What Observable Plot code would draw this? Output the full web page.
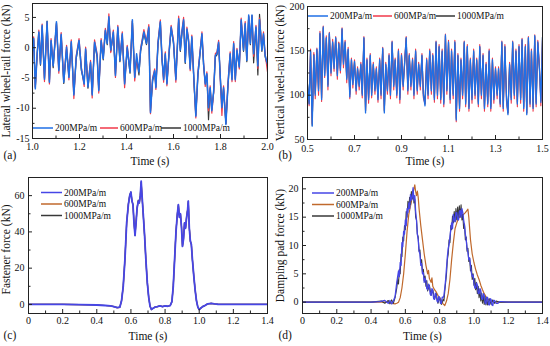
<!DOCTYPE html>
<html><head><meta charset="utf-8">
<script src="https://cdn.jsdelivr.net/npm/d3@7"></script>
<script src="https://cdn.jsdelivr.net/npm/@observablehq/plot@0.6"></script>
<style>
body{margin:0;background:#fff;font-family:"Liberation Serif",serif;}
#wrap{position:relative;width:550px;height:346px;overflow:hidden;background:#fff;}
.panel{position:absolute;}
</style></head><body><div id="wrap"></div>
<script>
// ---------- Panel (a): lateral wheel-rail force ----------
const tA = [1.000,1.005,1.012,1.020,1.027,1.034,1.041,1.051,1.062,1.072,
1.079,1.088,1.102,1.112,1.122,1.133,1.145,1.155,1.165,1.176,
1.186,1.198,1.208,1.220,1.226,1.236,1.247,1.254,1.264,1.275,
1.282,1.292,1.301,1.310,1.318,1.325,1.333,1.344,1.353,1.363,
1.372,1.382,1.392,1.403,1.415,1.425,1.435,1.443,1.453,1.460,
1.474,1.485,1.495,1.502,1.511,1.520,1.525,1.534,1.544,1.551,
1.558,1.565,1.572,1.582,1.590,1.600,1.610,1.622,1.629,1.636,
1.643,1.650,1.657,1.664,1.671,1.678,1.688,1.695,1.704,1.711,
1.721,1.728,1.735,1.742,1.749,1.756,1.763,1.771,1.778,1.785,
1.792,1.799,1.806,1.813,1.823,1.832,1.841,1.849,1.856,1.863,
1.870,1.880,1.888,1.898,1.905,1.912,1.920,1.927,1.934,1.941,
1.951,1.959,1.966,1.976,1.983,1.990,2.000];
const lateral200 = [-0.5,1.5,-6.8,-1.0,2.6,-2.7,3.7,-5.2,4.3,-5.7,
1.2,-3.0,4.3,-3.8,2.2,-5.7,0.1,-4.9,1.0,-7.8,
-1.6,1.2,-3.5,-6.0,-0.2,-6.5,-2.4,-7.8,0.9,-1.3,
-7.1,1.2,-1.8,2.9,0.7,5.1,-0.4,2.6,-4.6,3.4,
-2.1,2.3,-6.0,0.1,-4.0,4.6,-4.9,-1.0,-4.0,-0.4,
2.6,0.7,3.4,-10.7,-5.3,-3.8,-6.6,0.7,4.3,-1.8,
-5.3,-1.0,-6.0,-0.4,3.4,0.9,-5.3,4.8,-0.4,2.6,
4.6,-2.4,3.1,1.2,-3.5,1.8,-6.0,-11.3,-4.3,-1.6,
2.3,-2.7,-6.0,-4.3,-9.9,-6.6,-10.4,-7.1,-1.3,-1.0,
0.9,-4.9,-9.9,-6.6,-12.7,-6.0,-1.0,-5.3,0.7,-5.3,
-0.4,-3.2,4.6,-0.4,4.0,-2.1,5.4,0.7,5.4,-1.0,
3.4,-3.0,4.6,-0.4,2.3,-1.3,-2.7];
const lateral600 = [-0.3,1.8,-6.6,-1.2,2.9,-2.5,3.9,-5.6,4.2,-6.0,
1.5,-2.7,4.0,-4.2,2.5,-5.4,0.4,-5.3,1.3,-8.4,
-1.3,1.5,-3.2,-6.4,0.1,-6.2,-2.1,-8.3,1.3,-1.0,
-7.5,1.5,-1.5,3.2,1.0,5.6,-0.8,2.9,-4.9,3.7,
-1.8,2.6,-6.6,0.4,-3.7,4.4,-5.5,-2.0,-3.7,-0.1,
3.0,1.0,3.8,-10.9,-5.0,-3.5,-6.9,1.0,4.6,-1.5,
-5.7,-0.7,-6.3,-0.1,3.7,1.2,-5.7,5.2,-0.1,2.9,
5.0,-2.1,3.4,1.5,-3.8,2.1,-6.3,-11.6,-4.0,-1.3,
2.6,-2.4,-6.4,-4.0,-10.4,-6.3,-10.8,-7.4,-1.0,-0.7,
1.2,-5.2,-11.2,-6.3,-12.5,-5.7,-0.7,-5.6,1.0,-5.6,
-0.1,-3.5,4.9,-0.1,4.3,-1.8,5.1,1.0,5.2,-1.4,
3.7,-3.4,4.9,-0.1,2.6,-1.0,-4.0];
const lateral1000 = [-0.6,1.3,-6.5,-0.8,2.4,-2.9,3.5,-5.0,4.4,-5.5,
1.0,-3.3,4.1,-3.6,2.0,-5.9,-0.2,-4.7,0.8,-7.6,
-1.8,1.0,-3.8,-5.8,-0.4,-6.7,-2.6,-7.6,0.7,-1.5,
-6.9,1.0,-2.0,2.7,0.5,4.9,-0.6,2.4,-4.4,3.2,
-2.3,2.1,-5.8,-0.1,-4.2,4.4,-4.7,-1.8,-4.5,-0.6,
2.4,0.5,3.2,-10.5,-5.5,-4.0,-6.4,0.5,4.1,-2.0,
-5.1,-1.2,-5.8,-0.6,3.2,0.7,-5.1,4.6,-0.6,2.4,
4.4,-2.6,2.9,1.0,-3.3,1.6,-6.5,-11.1,-4.5,-1.8,
2.1,-2.9,-5.8,-4.5,-11.9,-6.8,-10.2,-7.3,-1.5,-1.2,
0.7,-4.7,-9.7,-6.8,-12.5,-6.2,-1.2,-5.1,0.5,-5.1,
-0.6,-3.0,4.4,-0.6,3.8,-2.3,5.2,0.5,5.3,-2.5,
3.2,-4.5,5.5,-0.6,2.1,-1.5,-3.0];

// ---------- Panel (b): vertical wheel-rail force ----------
const tB = [0.500,0.507,0.513,0.520,0.527,0.533,0.540,0.547,0.553,0.560,0.567,0.573,0.580,0.587,0.593,
0.600,0.607,0.613,0.620,0.627,0.633,0.640,0.647,0.653,0.660,0.667,0.673,0.680,0.687,0.693,
0.700,0.707,0.713,0.720,0.727,0.733,0.740,0.747,0.753,0.760,0.767,0.773,0.780,0.787,0.793,
0.800,0.807,0.813,0.820,0.827,0.833,0.840,0.847,0.853,0.860,0.867,0.873,0.880,0.887,0.893,
0.900,0.907,0.913,0.920,0.927,0.933,0.940,0.947,0.953,0.960,0.967,0.973,0.980,0.987,0.993,
1.000,1.007,1.013,1.020,1.027,1.033,1.040,1.047,1.053,1.060,1.067,1.073,1.080,1.087,1.093,
1.100,1.107,1.113,1.120,1.127,1.133,1.140,1.147,1.153,1.160,1.167,1.173,1.180,1.187,1.193,
1.200,1.207,1.213,1.220,1.227,1.233,1.240,1.247,1.253,1.260,1.267,1.273,1.280,1.287,1.293,
1.300,1.307,1.313,1.320,1.327,1.333,1.340,1.347,1.353,1.360,1.367,1.373,1.380,1.387,1.393,
1.400,1.407,1.413,1.420,1.427,1.433,1.440,1.447,1.453,1.460,1.467,1.473,1.480,1.487,1.493,
1.500];
const vertical200 = [112,90,150,65,145,100,152,105,170,95,177,122,165,110,170,
125,160,130,165,122,158,128,175,135,160,118,152,98,140,112,
138,105,130,110,135,100,165,80,140,95,145,100,135,105,130,
95,140,100,153,80,135,105,145,100,160,110,140,100,150,95,
145,110,135,165,105,145,110,140,100,150,105,135,110,145,100,
88,140,100,150,105,145,95,160,100,155,95,150,90,168,105,
160,95,150,100,160,72,145,85,140,100,160,90,155,85,140,
95,150,100,140,90,155,100,145,85,135,90,150,85,140,95,
130,100,130,90,160,85,155,95,78,135,95,160,100,150,90,
155,95,163,85,155,78,165,90,150,85,167,90,160,130,92,
165];
const vertical600 = [110,88,152,68,148,96,153,100,172,93,178,120,167,106,171,
122,163,127,166,118,160,125,176,131,162,114,154,96,142,108,
140,101,132,106,137,97,166,82,142,91,147,97,137,101,132,
92,142,96,154,83,137,101,147,96,161,106,142,97,152,91,
147,106,137,166,101,147,106,142,96,152,101,137,106,147,97,
90,142,96,152,101,147,92,161,96,157,91,152,87,169,101,
162,91,152,96,162,70,147,82,142,96,161,87,157,82,142,
91,152,96,142,87,157,96,147,82,137,87,152,82,142,91,
132,96,132,87,161,82,157,91,80,137,91,161,96,152,87,
157,91,164,82,157,80,166,87,152,82,168,87,162,132,88,
162];
const vertical1000 = [113,91,149,66,146,102,151,107,169,97,176,124,164,112,169,
127,159,132,164,124,159,130,174,137,159,120,151,101,139,114,
137,107,129,112,134,102,164,82,139,97,144,103,134,107,129,
97,139,102,152,82,134,107,144,102,159,112,139,102,149,97,
144,112,134,164,107,144,112,139,102,149,107,134,112,144,102,
90,139,102,149,107,144,97,159,102,154,97,149,92,167,107,
159,97,149,102,159,74,144,87,139,102,159,92,154,87,139,
97,149,102,139,92,154,102,144,87,134,92,149,87,139,97,
129,102,129,92,159,87,154,97,80,134,97,159,102,149,92,
154,97,162,87,154,80,164,92,149,87,166,92,159,129,94,
166];

// ---------- Panel (c): fastener force, [time, kN] ----------
const fastener200 = [[0,0],[0.1,0],[0.2,0],[0.3,-0.1],[0.4,-0.3],[0.45,-0.6],[0.48,-0.8],[0.5,-1.2],[0.52,-1.8],[0.535,-1.5],[0.545,2],[0.555,10],[0.565,25],[0.575,45],[0.585,55],[0.593,60],[0.6,62],[0.606,57],[0.612,55],[0.618,45],[0.624,38],[0.63,45],[0.636,53],[0.643,57],[0.649,56],[0.655,60],[0.66,68],[0.665,60],[0.672,50],[0.68,38],[0.688,24],[0.696,12],[0.704,4],[0.712,-1],[0.72,-2.8],[0.728,-2.2],[0.74,-1.5],[0.755,-1.2],[0.77,-0.8],[0.785,-1.2],[0.8,-0.8],[0.815,-1.0],[0.83,-0.6],[0.84,1.5],[0.848,10],[0.856,25],[0.864,40],[0.872,50],[0.878,55],[0.884,48],[0.89,50],[0.896,43],[0.902,32],[0.908,36],[0.914,45],[0.92,42],[0.926,48],[0.932,52],[0.936,57],[0.942,42],[0.948,35],[0.954,33],[0.96,25],[0.968,16],[0.976,8],[0.984,2],[0.992,-1.5],[1.0,-2.8],[1.01,-2.0],[1.02,-1.2],[1.035,-0.5],[1.05,0.3],[1.07,0.6],[1.09,0.3],[1.11,0.1],[1.15,0],[1.2,0],[1.3,0],[1.4,0]];
const fastener600 = [[0,0],[0.1,0],[0.2,0],[0.3,-0.1],[0.4,-0.3],[0.45,-0.6],[0.48,-0.8],[0.5,-1.2],[0.52,-1.9],[0.535,-1.6],[0.545,1.8],[0.555,9.5],[0.565,24.5],[0.575,44.5],[0.585,55],[0.593,60],[0.6,61.5],[0.606,57],[0.612,55],[0.618,45],[0.624,38.5],[0.63,45],[0.636,53],[0.643,57],[0.649,56],[0.655,60],[0.66,67],[0.665,60],[0.672,50],[0.68,38.5],[0.688,24.5],[0.696,12.5],[0.704,4.5],[0.712,-1],[0.72,-2.9],[0.728,-2.2],[0.74,-1.5],[0.755,-1.2],[0.77,-0.8],[0.785,-1.2],[0.8,-0.8],[0.815,-1.0],[0.83,-0.6],[0.84,1.4],[0.848,9.5],[0.856,24.5],[0.864,40],[0.872,50],[0.878,54.5],[0.884,48],[0.89,50],[0.896,43],[0.902,32.5],[0.908,36],[0.914,45],[0.92,42],[0.926,48],[0.932,52],[0.936,56],[0.942,42],[0.948,35],[0.954,33],[0.96,25],[0.968,16.5],[0.976,8.5],[0.984,2.2],[0.992,-1.5],[1.0,-2.9],[1.01,-2.0],[1.02,-1.2],[1.035,-0.5],[1.05,0.3],[1.07,0.6],[1.09,0.3],[1.11,0.1],[1.15,0],[1.2,0],[1.3,0],[1.4,0]];
const fastener1000 = [[0,0],[0.1,0],[0.2,0],[0.3,-0.1],[0.4,-0.3],[0.45,-0.6],[0.48,-0.8],[0.5,-1.2],[0.52,-1.7],[0.535,-1.4],[0.545,2.2],[0.555,10.5],[0.565,25.5],[0.575,45],[0.585,55.5],[0.593,60.5],[0.6,62],[0.606,57.5],[0.612,55],[0.618,45.5],[0.624,38],[0.63,45.5],[0.636,53],[0.643,57.5],[0.649,56],[0.655,60.5],[0.66,67.5],[0.665,60],[0.672,49.5],[0.68,37.5],[0.688,23.5],[0.696,11.5],[0.704,3.8],[0.712,-1],[0.72,-2.7],[0.728,-2.2],[0.74,-1.5],[0.755,-1.2],[0.77,-0.8],[0.785,-1.2],[0.8,-0.8],[0.815,-1.0],[0.83,-0.6],[0.84,1.6],[0.848,10.5],[0.856,25.5],[0.864,40.5],[0.872,50],[0.878,55],[0.884,48.5],[0.89,50],[0.896,43],[0.902,32],[0.908,36.5],[0.914,45],[0.92,42.5],[0.926,48],[0.932,52.5],[0.936,57],[0.942,42.5],[0.948,35],[0.954,33],[0.96,24.5],[0.968,15.5],[0.976,7.8],[0.984,1.8],[0.992,-1.5],[1.0,-2.7],[1.01,-2.0],[1.02,-1.2],[1.035,-0.5],[1.05,0.3],[1.07,0.6],[1.09,0.3],[1.11,0.1],[1.15,0],[1.2,0],[1.3,0],[1.4,0]];

// ---------- Panel (d): damping pad force, [time, kN] ----------
const damping200 = [[0,0],[0.2,0],[0.4,0],[0.45,0.1],[0.48,0.3],[0.5,-0.2],[0.51,0.3],[0.52,-0.3],[0.53,0.2],[0.54,1.0],[0.55,3.5],[0.56,5.5],[0.565,4.5],[0.57,7],[0.575,6.5],[0.58,10.5],[0.585,9.8],[0.59,12.5],[0.595,12],[0.6,14.5],[0.605,13.5],[0.61,16.5],[0.615,15.8],[0.62,17.5],[0.625,16.5],[0.63,19],[0.635,18],[0.64,18.5],[0.645,20.2],[0.65,18],[0.655,18.8],[0.66,16],[0.665,14.5],[0.67,12],[0.675,11],[0.68,9],[0.685,8.5],[0.69,6.5],[0.695,6.8],[0.7,5],[0.705,5.2],[0.71,3.5],[0.715,4.2],[0.72,3.8],[0.725,2.4],[0.73,2.2],[0.735,3.2],[0.74,2.8],[0.745,1.4],[0.75,1.2],[0.755,2.4],[0.76,2.0],[0.765,0.6],[0.77,0.5],[0.775,1.6],[0.78,1.2],[0.785,0.2],[0.79,0.0],[0.795,1.0],[0.8,0.8],[0.805,-0.2],[0.81,-0.2],[0.815,0.9],[0.82,0.8],[0.825,1.2],[0.83,2.5],[0.835,4],[0.84,6],[0.845,8],[0.85,9.5],[0.855,10.2],[0.86,11.5],[0.865,12.8],[0.87,14],[0.875,13],[0.88,15.5],[0.885,14.5],[0.89,14.2],[0.895,15.8],[0.9,15.8],[0.905,14.6],[0.91,14.5],[0.915,16],[0.92,16.2],[0.925,15],[0.93,16.5],[0.935,15.8],[0.94,14.5],[0.945,13.5],[0.95,12],[0.955,11],[0.96,9.5],[0.965,8.8],[0.97,7.5],[0.975,7.8],[0.98,6.5],[0.985,5.2],[0.99,4.5],[0.995,4.8],[1.0,3.5],[1.005,2.5],[1.01,2.5],[1.015,3.4],[1.02,3.0],[1.025,1.6],[1.03,1.5],[1.035,2.4],[1.04,2.0],[1.045,0.6],[1.05,0.5],[1.055,1.5],[1.06,1.2],[1.065,-0.1],[1.07,-0.3],[1.075,0.9],[1.08,0.8],[1.085,-0.4],[1.09,-0.5],[1.095,0.6],[1.1,0.5],[1.105,-0.5],[1.11,-0.6],[1.115,0.3],[1.12,0.3],[1.13,-0.2],[1.14,-0.2],[1.15,0.1],[1.16,0.1],[1.2,0],[1.3,0],[1.4,0]];
const damping600 = [[0,0],[0.2,0],[0.4,0],[0.5,0],[0.52,-0.2],[0.54,-0.3],[0.55,-0.2],[0.56,0],[0.57,0.8],[0.58,2.5],[0.59,5],[0.6,8.5],[0.61,12.5],[0.62,15.5],[0.63,17],[0.64,18.5],[0.65,20],[0.655,20.7],[0.66,19.5],[0.665,18.8],[0.67,19.6],[0.675,18.5],[0.68,16.5],[0.69,13.5],[0.7,11],[0.71,8.5],[0.72,6.5],[0.73,5],[0.735,5.6],[0.74,4.2],[0.75,3.5],[0.755,4.3],[0.76,2.8],[0.77,2.2],[0.78,1.8],[0.79,1.2],[0.8,0.8],[0.81,0.3],[0.82,-0.3],[0.83,-0.6],[0.84,0.2],[0.85,1.5],[0.86,4],[0.87,7.5],[0.88,10.5],[0.89,13],[0.9,14],[0.91,14.8],[0.92,15.2],[0.93,15.4],[0.94,15.5],[0.95,15.8],[0.96,16.2],[0.965,16.4],[0.97,15],[0.98,11],[0.99,8.5],[1.0,7],[1.01,5.8],[1.02,4.8],[1.03,4],[1.04,3],[1.05,2.2],[1.06,1.5],[1.07,1],[1.08,0.6],[1.1,0.2],[1.12,0],[1.15,0],[1.2,0],[1.3,0],[1.4,0]];
const damping1000 = [[0,0],[0.2,0],[0.4,0],[0.46,0.2],[0.48,-0.2],[0.5,0.3],[0.51,-0.3],[0.52,0.4],[0.53,-0.2],[0.54,0.8],[0.55,2.5],[0.555,4],[0.56,3.2],[0.565,5.8],[0.57,5],[0.575,8.5],[0.58,8],[0.585,11.5],[0.59,10.8],[0.595,13.5],[0.6,12.8],[0.605,16],[0.61,15],[0.615,17.8],[0.62,16.5],[0.625,18.5],[0.63,17.2],[0.635,19.5],[0.64,18.2],[0.645,19.8],[0.65,17.5],[0.655,18.2],[0.66,15],[0.665,14.5],[0.67,12],[0.675,11.5],[0.68,9],[0.685,9.2],[0.69,7],[0.695,7.5],[0.7,5.2],[0.705,5.8],[0.71,3.8],[0.715,4.6],[0.72,2.8],[0.725,3.8],[0.73,2],[0.74,3],[0.75,1.2],[0.76,2.2],[0.77,0.5],[0.78,1.5],[0.79,-0.2],[0.8,0.8],[0.81,-0.4],[0.82,0.5],[0.825,0.2],[0.83,2],[0.835,3.5],[0.84,5],[0.845,7.5],[0.85,8.5],[0.855,11],[0.86,10.5],[0.865,13.5],[0.87,12.8],[0.875,15.2],[0.88,14],[0.885,16],[0.89,14.2],[0.895,16.5],[0.9,14.5],[0.905,16.8],[0.91,14.8],[0.915,17],[0.92,15],[0.925,17.2],[0.93,14.5],[0.935,15.5],[0.94,13],[0.945,13.8],[0.95,11],[0.955,11.5],[0.96,9],[0.965,9.5],[0.97,7.2],[0.975,7.8],[0.98,5.5],[0.985,6.5],[0.99,4],[0.995,5],[1.0,3],[1.005,4.2],[1.01,2.2],[1.015,3.5],[1.02,1.5],[1.025,2.8],[1.03,0.8],[1.035,2.2],[1.04,0.2],[1.045,1.6],[1.05,-0.2],[1.055,1.3],[1.06,-0.4],[1.065,1],[1.07,-0.5],[1.075,0.8],[1.08,-0.5],[1.09,0.6],[1.1,-0.4],[1.11,0.4],[1.12,-0.2],[1.13,0.2],[1.15,0],[1.2,0],[1.3,0],[1.4,0]];

// ---------- labels & ticks ----------
const seriesNames = ["200MPa/m", "600MPa/m", "1000MPa/m"];
const colorsAB = ["#1f6fe6", "#f0394a", "#363636"];
const colorsCD = ["#4646e6", "#c0692c", "#383838"];
const panelLetters = ["(a)", "(b)", "(c)", "(d)"];
const xTitle = "Time (s)";
const yTitles = ["Lateral wheel-rail force (kN)", "Vertical wheel-rail force (kN)", "Fastener force (kN)", "Damping pad force (kN)"];
const xTicksA = [1.0, 1.2, 1.4, 1.6, 1.8, 2.0], xMinorA = [1.1, 1.3, 1.5, 1.7, 1.9];
const yTicksA = [-15, -10, -5, 0, 5], yMinorA = [-12.5, -7.5, -2.5, 2.5];
const xTicksB = [0.5, 0.7, 0.9, 1.1, 1.3, 1.5], xMinorB = [0.6, 0.8, 1.0, 1.2, 1.4];
const yTicksB = [50, 100, 150, 200], yMinorB = [75, 125, 175];
const xTicksCD = [0, 0.2, 0.4, 0.6, 0.8, 1.0, 1.2, 1.4], xMinorCD = [0.1, 0.3, 0.5, 0.7, 0.9, 1.1, 1.3];
const yTicksC = [0, 20, 40, 60], yMinorC = [10, 30, 50];
const yTicksD = [0, 5, 10, 15, 20], yMinorD = [2.5, 7.5, 12.5, 17.5];

const FONT = "'Liberation Serif', 'Times New Roman', serif";
const f1 = d3.format(".1f");
const fCD = d => d === 0 ? "0" : d3.format(".1f")(d);

function zipT(t, v) { return t.map((x, i) => ({t: x, v: v[i]})); }
function fromPairs(p) { return p.map(d => ({t: d[0], v: d[1]})); }

function panel(cfg) {
  const iw = cfg.width - cfg.ml - cfg.mr, ih = cfg.height - cfg.mt - cfg.mb;
  const marks = [];
  cfg.series.forEach(s => marks.push(Plot.line(s.data, {x: "t", y: "v", stroke: s.color, strokeWidth: s.sw, clip: true})));
  marks.push(Plot.frame({stroke: "#222", strokeWidth: 1}));
  marks.push(Plot.tickX(cfg.xMajor, {x: d => d, insetTop: ih - 4, stroke: "#222"}));
  marks.push(Plot.tickX(cfg.xMinor, {x: d => d, insetTop: ih - 2.5, stroke: "#222"}));
  marks.push(Plot.tickY(cfg.yMajor, {y: d => d, insetRight: iw - 4, stroke: "#222"}));
  marks.push(Plot.tickY(cfg.yMinor, {y: d => d, insetRight: iw - 2.5, stroke: "#222"}));
  marks.push(Plot.axisX({ticks: cfg.xMajor, tickSize: 0, tickPadding: cfg.xPad, tickFormat: cfg.xFmt, label: null, fontSize: 10}));
  marks.push(Plot.axisY({ticks: cfg.yMajor, tickSize: 0, tickPadding: cfg.yPad, tickFormat: d => String(d), label: null, fontSize: 10}));
  marks.push(Plot.text([xTitle], {text: d => d, frameAnchor: "bottom", dy: cfg.xTitleDy, textAnchor: "middle", lineAnchor: "middle", fontSize: 11.5}));
  marks.push(Plot.text([cfg.yTitle], {text: d => d, frameAnchor: "left", dx: cfg.yTitleDx, dy: cfg.yTitleDy || 0, rotate: -90, textAnchor: "middle", lineAnchor: "middle", fontSize: 11.5}));
  marks.push(Plot.text([cfg.letter], {text: d => d, frameAnchor: "bottom-left", dx: -cfg.ml + 3, dy: cfg.letterDy, textAnchor: "start", lineAnchor: "middle", fontSize: 11.5}));
  const svg = Plot.plot({
    width: cfg.width, height: cfg.height,
    marginLeft: cfg.ml, marginRight: cfg.mr, marginTop: cfg.mt, marginBottom: cfg.mb,
    x: {domain: cfg.xDomain, label: null},
    y: {domain: cfg.yDomain, label: null},
    style: {fontFamily: FONT, fontSize: "10px", color: "#111", background: "transparent", overflow: "visible"},
    marks
  });
  svg.setAttribute("font-family", FONT);
  svg.classList.add("panel");
  svg.style.left = cfg.left + "px";
  svg.style.top = cfg.top + "px";
  document.getElementById("wrap").appendChild(svg);
}

const A = [zipT(tA, lateral200), zipT(tA, lateral600), zipT(tA, lateral1000)];
const B = [zipT(tB, vertical200), zipT(tB, vertical600), zipT(tB, vertical1000)];
const C = [fastener200, fastener600, fastener1000].map(fromPairs);
const D = [damping200, damping600, damping1000].map(fromPairs);

panel({left: 0, top: 0, width: 275, height: 173, ml: 32, mr: 8, mt: 3, mb: 35,
  xDomain: [1, 2], yDomain: [-15, 7.3], xMajor: xTicksA, xMinor: xMinorA, yMajor: yTicksA, yMinor: yMinorA,
  xFmt: f1, xPad: 4, yPad: 3, xTitleDy: 23, yTitleDx: -26, letterDy: 17, yTitle: yTitles[0], letter: panelLetters[0],
  series: [{data: A[2], color: colorsAB[2], sw: 1.2}, {data: A[1], color: colorsAB[1], sw: 1.2}, {data: A[0], color: colorsAB[0], sw: 1.5}]});
panel({left: 275, top: 0, width: 275, height: 173, ml: 32, mr: 8, mt: 6, mb: 34,
  xDomain: [0.5, 1.5], yDomain: [50, 200], xMajor: xTicksB, xMinor: xMinorB, yMajor: yTicksB, yMinor: yMinorB,
  xFmt: f1, xPad: 5, yPad: 3, xTitleDy: 22, yTitleDx: -27, letterDy: 16, yTitle: yTitles[1], letter: panelLetters[1],
  series: [{data: B[2], color: colorsAB[2], sw: 1.1}, {data: B[1], color: colorsAB[1], sw: 1.1}, {data: B[0], color: colorsAB[0], sw: 1.3}]});
panel({left: 0, top: 173, width: 275, height: 173, ml: 28, mr: 8, mt: 4, mb: 33,
  xDomain: [0, 1.4], yDomain: [-5, 70], xMajor: xTicksCD, xMinor: xMinorCD, yMajor: yTicksC, yMinor: yMinorC,
  xFmt: fCD, xPad: 3, yPad: 4, xTitleDy: 23, yTitleDx: -22, yTitleDy: 4, letterDy: 22, yTitle: yTitles[2], letter: panelLetters[2],
  series: [{data: C[2], color: colorsCD[2], sw: 1.2}, {data: C[1], color: colorsCD[1], sw: 1.2}, {data: C[0], color: colorsCD[0], sw: 1.8}]});
panel({left: 275, top: 173, width: 275, height: 173, ml: 27, mr: 8, mt: 4, mb: 33,
  xDomain: [0, 1.4], yDomain: [-2, 22], xMajor: xTicksCD, xMinor: xMinorCD, yMajor: yTicksD, yMinor: yMinorD,
  xFmt: fCD, xPad: 3, yPad: 4, xTitleDy: 23, yTitleDx: -22, letterDy: 22, yTitle: yTitles[3], letter: panelLetters[3],
  series: [{data: D[1], color: colorsCD[1], sw: 1.2}, {data: D[2], color: colorsCD[2], sw: 1.1}, {data: D[0], color: colorsCD[0], sw: 1.3}]});

// ---------- legends (overlay) ----------
const legends = [
  {colors: colorsAB, items: [{x1: 33, x2: 53, tx: 55, y: 128}, {x1: 100, x2: 118, tx: 120, y: 128}, {x1: 161, x2: 181, tx: 183, y: 128}]},
  {colors: colorsAB, items: [{x1: 308, x2: 328, tx: 330, y: 16}, {x1: 373, x2: 392, tx: 394, y: 16}, {x1: 436, x2: 455, tx: 457, y: 16}]},
  {colors: colorsCD, items: [{x1: 41, x2: 62, tx: 64, y: 192.5}, {x1: 41, x2: 62, tx: 64, y: 204}, {x1: 41, x2: 62, tx: 64, y: 215.5}]},
  {colors: colorsCD, items: [{x1: 312, x2: 334, tx: 336, y: 193}, {x1: 312, x2: 334, tx: 336, y: 204.5}, {x1: 312, x2: 334, tx: 336, y: 216}]}
];
const ov = d3.select("#wrap").append("svg").attr("width", 550).attr("height", 346)
  .style("position", "absolute").style("left", "0px").style("top", "0px").style("pointer-events", "none");
legends.forEach(L => {
  L.items.forEach((it, i) => {
    ov.append("line").attr("x1", it.x1).attr("x2", it.x2).attr("y1", it.y).attr("y2", it.y)
      .attr("stroke", L.colors[i]).attr("stroke-width", 1.5);
    ov.append("text").attr("x", it.tx).attr("y", it.y).attr("dy", "0.35em")
      .attr("font-family", FONT).attr("font-size", 9.5)
      .attr("fill", "#111").text(seriesNames[i]);
  });
});
</script>
</body></html>
